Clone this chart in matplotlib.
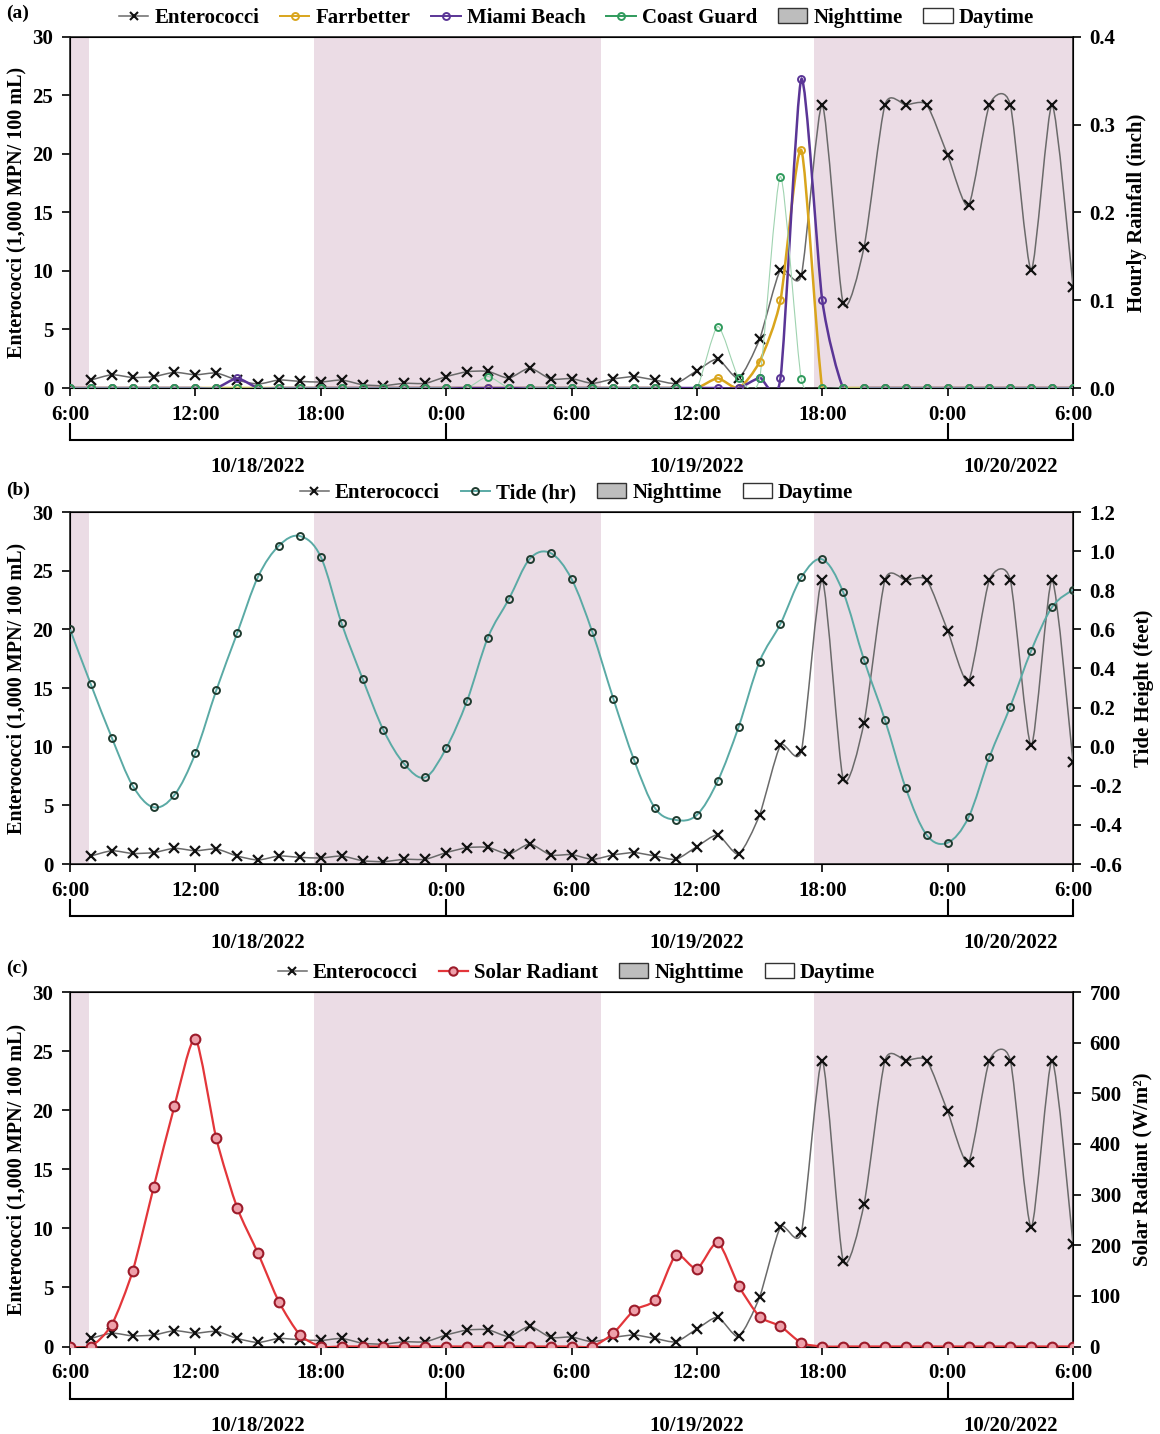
import numpy as np
import matplotlib
matplotlib.use("Agg")
from matplotlib import pyplot as plt
from matplotlib.path import Path
from matplotlib.patches import PathPatch, Patch
from matplotlib.lines import Line2D

plt.rcParams["font.family"] = ["Liberation Serif", "DejaVu Serif"]
plt.rcParams["font.weight"] = "bold"
plt.rcParams["axes.labelweight"] = "bold"

# hours since 6:00 on 10/18/2022
hours = np.arange(0, 49)
entero_hours = np.arange(1, 49)

# Enterococci (1,000 MPN/100 mL), 7:00 10/18 .. 6:00 10/20
entero = [0.68, 1.13, 0.9, 0.97, 1.34, 1.13, 1.28, 0.68, 0.34, 0.68, 0.57, 0.51,
          0.68, 0.28, 0.2, 0.4, 0.4, 0.97, 1.39, 1.42, 0.85, 1.7, 0.77, 0.8,
          0.4, 0.77, 0.97, 0.68, 0.4, 1.48, 2.47, 0.85, 4.18, 10.1, 9.66, 24.2,
          7.25, 12.05, 24.2, 24.2, 24.2, 19.9, 15.6, 24.2, 24.2, 10.1, 24.2, 8.67]

# hourly rainfall (inch)
farrbetter = [0]*31 + [0.011, 0, 0.03, 0.1, 0.271] + [0]*13
miami_beach = [0]*8 + [0.011] + [0]*24 + [0.0117, 0.011, 0.352, 0.1] + [0]*12
coast_guard = [0]*20 + [0.013] + [0]*10 + [0.07, 0.0117, 0.011, 0.241, 0.01] + [0]*13

# tide height (feet)
tide = [0.6, 0.318, 0.046, -0.2, -0.31, -0.247, -0.034, 0.288, 0.58, 0.869,
        1.028, 1.077, 0.971, 0.63, 0.348, 0.085, -0.089, -0.157, -0.008, 0.234,
        0.558, 0.754, 0.96, 0.99, 0.858, 0.585, 0.246, -0.07, -0.315, -0.375,
        -0.349, -0.175, 0.102, 0.435, 0.628, 0.866, 0.958, 0.79, 0.443, 0.137,
        -0.213, -0.452, -0.491, -0.361, -0.054, 0.205, 0.491, 0.714, 0.803]

# solar radiant (W/m2)
solar = [0, 0, 43, 149, 314, 475, 608, 411, 274, 184, 88, 23] + [0]*14 + \
        [26, 72, 92, 181, 153, 206, 120, 59, 40, 7] + [0]*13

night_spans = [(0, 0.9), (11.7, 25.4), (35.6, 48)]
time_ticks = [0, 6, 12, 18, 24, 30, 36, 42, 48]
time_labels = ["6:00", "12:00", "18:00", "0:00", "6:00", "12:00", "18:00", "0:00", "6:00"]
day_bounds = [0, 18, 42, 48]
day_centers = [9, 30, 45]
day_labels = ["10/18/2022", "10/19/2022", "10/20/2022"]

NIGHT = "#ebdce5"
ENT_LINE = "#6a6a6a"


def smooth(ax, x, y, k=1/9, **kw):
    pts = np.column_stack([x, y]).astype(float)
    ext = np.vstack([pts[0], pts, pts[-1]])
    verts = [pts[0]]
    codes = [Path.MOVETO]
    for i in range(len(pts) - 1):
        p0, p1, p2, p3 = ext[i], ext[i + 1], ext[i + 2], ext[i + 3]
        verts += [p1 + (p2 - p0) * k, p2 - (p3 - p1) * k, p2]
        codes += [Path.CURVE4] * 3
    ax.add_patch(PathPatch(Path(verts, codes), fill=False, **kw))


def base_panel(ax, ylabel_right, ylim2, yticks2, fmt):
    for a, b in night_spans:
        ax.axvspan(a, b, color=NIGHT, lw=0, zorder=0)
    ax.set_xlim(0, 48)
    ax.set_ylim(0, 30)
    ax.set_yticks([0, 5, 10, 15, 20, 25, 30])
    ax.set_xticks(time_ticks, time_labels)
    ax.tick_params(labelsize=15, length=6, width=1.2, pad=6)
    ax.set_ylabel("Enterococci (1,000 MPN/ 100 mL)", fontsize=14.5, labelpad=4)
    for s in ax.spines.values():
        s.set_linewidth(1.2)
        s.set_color("#222222")
    smooth(ax, entero_hours, entero, color=ENT_LINE, lw=1.1, zorder=3)
    ax.plot(entero_hours, entero, ls="none", marker="x", ms=7, mew=1.6,
            color="#111111", zorder=4)
    ax2 = ax.twinx()
    ax2.set_ylim(*ylim2)
    ax2.set_yticks(yticks2, [fmt.format(v) for v in yticks2])
    ax2.tick_params(labelsize=15, length=6, width=1.2, pad=6)
    ax2.set_ylabel(ylabel_right, fontsize=15, labelpad=8)
    # date bracket
    sec = ax.secondary_xaxis(-0.148)
    sec.set_xticks(day_bounds, [""] * 4)
    sec.set_xticks(day_centers, day_labels, minor=True)
    sec.tick_params(which="major", direction="in", length=12, width=1.5)
    sec.tick_params(which="minor", length=0, pad=12, labelsize=15)
    sec.spines["bottom"].set_linewidth(1.5)
    return ax2


def add_legend(ax, handles, labels):
    handles = handles + [Patch(facecolor="#bdbdbd", edgecolor="#333333"),
                         Patch(facecolor="white", edgecolor="#333333")]
    labels = labels + ["Nighttime", "Daytime"]
    ax.legend(handles, labels, loc="center", bbox_to_anchor=(0.505, 1.054),
              ncol=len(labels), frameon=False, fontsize=15, handlelength=1.4,
              handletextpad=0.3, columnspacing=1.0, borderaxespad=0)


ent_handle = Line2D([], [], color=ENT_LINE, lw=1.1, marker="x", ms=6,
                    mew=1.5, mec="#111111")

fig = plt.figure(figsize=(11.6, 14.34), dpi=100)
W, H = 1160, 1434
boxes = [(37, 388), (512, 864), (992, 1346.5)]
axes = [fig.add_axes([70 / W, 1 - b / H, 1003 / W, (b - t) / H]) for t, b in boxes]

# (a) rainfall
ax = axes[0]
ax2 = base_panel(ax, "Hourly Rainfall (inch)", (0, 0.4), [0.0, 0.1, 0.2, 0.3, 0.4], "{:.1f}")
rain = [("Farrbetter", farrbetter, "#d9a51c", 1.8, "#d9a51c"),
        ("Miami Beach", miami_beach, "#5a3596", 1.8, "#5a3596"),
        ("Coast Guard", coast_guard, "#9fd3b0", 0.8, "#2f9a5c")]
handles = [ent_handle]
for name, vals, lc, lw, mc in rain:
    smooth(ax2, hours, vals, color=lc, lw=lw, zorder=3)
    ax2.plot(hours, vals, ls="none", marker="o", ms=5, mew=1.4, mfc="none",
             mec=mc, zorder=4)
    handles.append(Line2D([], [], color=lc if lw > 1 else mc, lw=1.4, marker="o",
                          ms=5, mew=1.4, mfc="none", mec=mc))
add_legend(ax, handles, ["Enterococci", "Farrbetter", "Miami Beach", "Coast Guard"])

# (b) tide
ax = axes[1]
ax2 = base_panel(ax, "Tide Height (feet)", (-0.6, 1.2),
                 [-0.6, -0.4, -0.2, 0.0, 0.2, 0.4, 0.6, 0.8, 1.0, 1.2], "{:.1f}")
smooth(ax2, hours, tide, k=1/6, color="#5aaaa5", lw=1.4, zorder=3)
ax2.plot(hours, tide, ls="none", marker="o", ms=5, mew=1.4, mfc="none",
         mec="#1f3b2f", zorder=4)
add_legend(ax, [ent_handle, Line2D([], [], color="#5aaaa5", lw=1.4, marker="o", ms=5,
                                   mew=1.4, mfc="none", mec="#1f3b2f")],
           ["Enterococci", "Tide (hr)"])

# (c) solar
ax = axes[2]
ax2 = base_panel(ax, "Solar Radiant (W/m²)", (0, 700), list(range(0, 701, 100)), "{:d}")
smooth(ax2, hours, solar, color="#e3363a", lw=1.6, zorder=3)
ax2.plot(hours, solar, ls="none", marker="o", ms=7, mew=1.5, mfc="#eea0aa",
         mec="#9c1b2a", zorder=4)
add_legend(ax, [ent_handle, Line2D([], [], color="#e3363a", lw=1.6, marker="o", ms=6,
                                   mew=1.5, mfc="#eea0aa", mec="#9c1b2a")],
           ["Enterococci", "Solar Radiant"])

for lab, y in [("(a)", 13), ("(b)", 490), ("(c)", 968)]:
    fig.text(6 / W, 1 - y / H, lab, fontsize=14, va="center", ha="left")

fig.savefig("out.png", dpi=100)
